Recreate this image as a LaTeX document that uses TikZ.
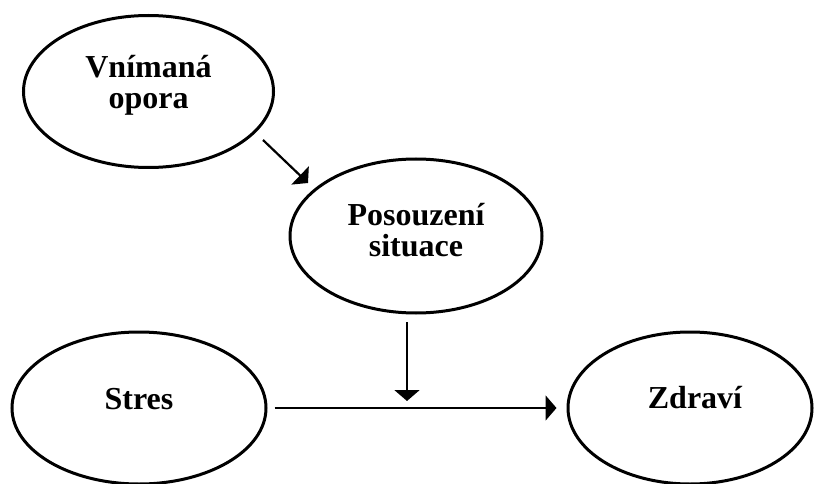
\documentclass[tikz,border=0pt]{standalone}
\usepackage{fontspec}
\setmainfont{Liberation Serif}
\usetikzlibrary{arrows.meta,shapes.geometric}
\begin{document}
\begin{tikzpicture}[x=1pt,y=-1pt,
  ell/.style={draw=black, line width=3pt, ellipse, inner sep=0pt},
  txt/.style={align=center, inner sep=0pt, font=\fontsize{32}{31}\selectfont\bfseries},
  arr/.style={draw=black, line width=2.2pt, -{Triangle[length=11pt,width=25pt]}}]
\useasboundingbox (0,0) rectangle (814,484);
\node[ell, minimum width=250pt, minimum height=152pt] (e1) at (148.5,91.5) {};
\node[ell, minimum width=252pt, minimum height=154pt] (e2) at (416,236) {};
\node[ell, minimum width=254pt, minimum height=152pt] (e3) at (139,408) {};
\node[ell, minimum width=244pt, minimum height=152pt] (e4) at (690,408) {};
\node[txt] (t1) at ([yshift=6pt]e1.center) {Vnímaná\\opora};
\node[txt] (t2) at ([yshift=6pt]e2.center) {Posouzení\\situace};
\node[txt] (t3) at ([yshift=9pt]e3.center) {Stres};
\node[txt] (t4) at ([xshift=5pt,yshift=10pt]e4.center) {Zdraví};
\coordinate (d1) at (263,140);
\coordinate (d2) at (308,183);
\coordinate (m1) at (407,322);
\coordinate (m2) at (407,401);
\draw[arr] (d1) -- (d2);
\draw[arr] (m1) -- (m2);
\draw[arr, shorten <=7pt, shorten >=10pt] (e3.east) -- (e4.west);
\end{tikzpicture}
\end{document}
